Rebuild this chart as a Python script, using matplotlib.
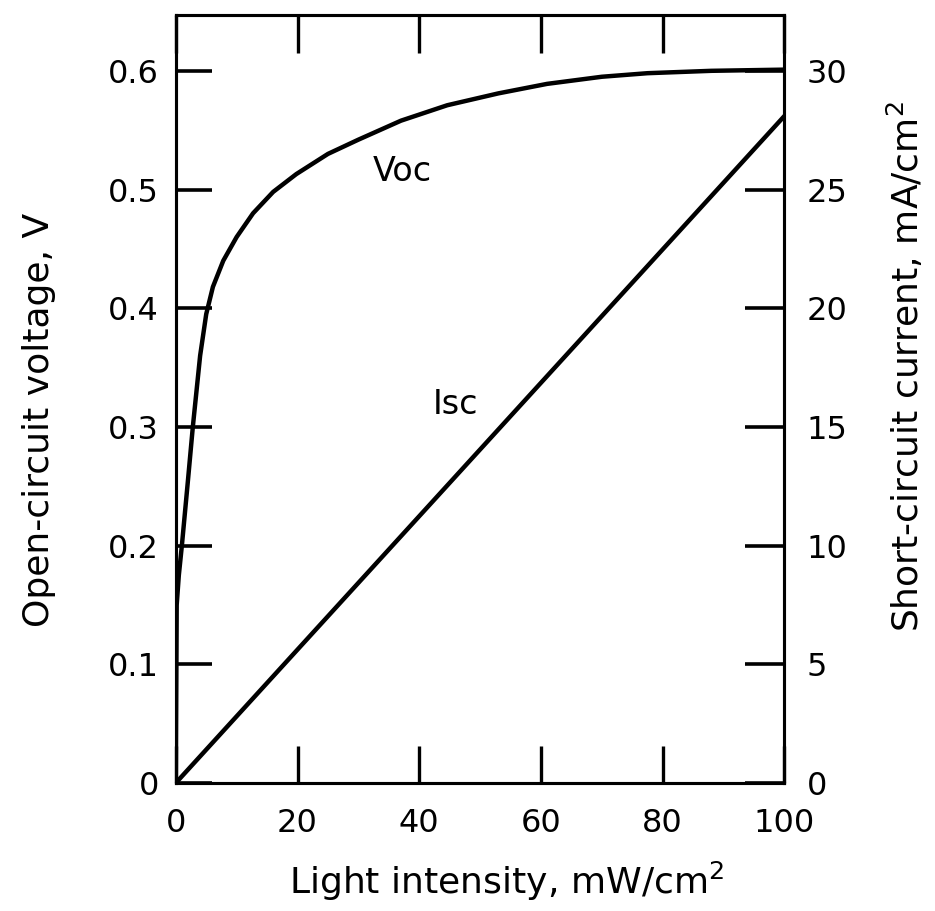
import matplotlib
matplotlib.use("Agg")
import matplotlib.pyplot as plt

# light intensity, mW/cm2 and open-circuit voltage, V
light_voc = [0, 0.15, 0.5, 1.0, 2.0, 2.8, 4.0, 5.0, 6.1, 7.8, 10, 12.7, 16,
             19.8, 25, 30, 33.5, 37, 44.6, 53, 61, 70, 77.5, 88, 100]
voc = [0, 0.15, 0.175, 0.20, 0.255, 0.30, 0.36, 0.395, 0.418, 0.440, 0.460,
       0.480, 0.498, 0.513, 0.53, 0.542, 0.550, 0.558, 0.571, 0.581, 0.589,
       0.595, 0.598, 0.600, 0.601]

# short-circuit current, mA/cm2
light_isc = [0, 100]
isc = [0, 28.1]

x_ticks = [0, 20, 40, 60, 80, 100]
voc_ticks = [0, 0.1, 0.2, 0.3, 0.4, 0.5, 0.6]
voc_labels = ["0", "0.1", "0.2", "0.3", "0.4", "0.5", "0.6"]
isc_ticks = [0, 5, 10, 15, 20, 25, 30]

fig = plt.figure(figsize=(9.35, 9.11), dpi=100)
ax = fig.add_axes([0.188, 0.1405, 0.651, 0.843])
ax2 = ax.twinx()

ax.plot(light_voc, voc, color="black", lw=3.2, solid_capstyle="round",
        solid_joinstyle="round")
ax2.plot(light_isc, isc, color="black", lw=3.2, solid_capstyle="round")

ax.set_xlim(0, 100)
ax.set_ylim(0, 0.647)
ax2.set_ylim(0, 0.647 * 50)

ax.set_xticks(x_ticks)
ax.set_yticks(voc_ticks)
ax.set_yticklabels(voc_labels)
ax2.set_yticks(isc_ticks)

for a in (ax, ax2):
    for s in a.spines.values():
        s.set_linewidth(2.2)

ax.tick_params(axis="x", direction="in", length=27, width=2.4, top=True,
               labelsize=23, pad=18)
ax.tick_params(axis="y", direction="in", length=26, width=2.6,
               labelsize=23, pad=12)
ax2.tick_params(axis="y", direction="in", length=28, width=2.6,
                labelsize=23, pad=16)

ax.set_xlabel("Light intensity, mW/cm$^2$", fontsize=26)
ax.set_ylabel("Open-circuit voltage, V", fontsize=26)
ax2.set_ylabel("Short-circuit current, mA/cm$^2$", fontsize=26)
ax.xaxis.set_label_coords(0.543, -0.1)
ax.yaxis.set_label_coords(-0.197, 0.473)
ax2.yaxis.set_label_coords(1.166, 0.542)

ax.text(37.2, 0.515, "Voc", fontsize=24, ha="center", va="center")
ax.text(46, 0.319, "Isc", fontsize=24, ha="center", va="center")

fig.savefig("out.png", dpi=100)
